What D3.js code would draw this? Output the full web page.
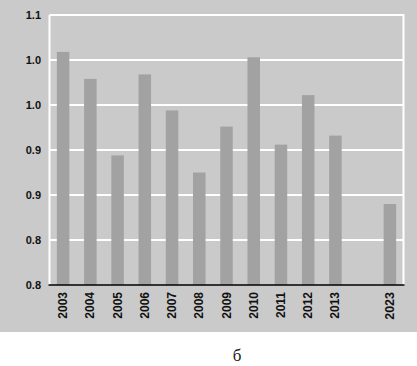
<!DOCTYPE html>
<html><head><meta charset="utf-8">
<script src="https://cdn.jsdelivr.net/npm/d3@7"></script>
<style>body{margin:0;background:#fff}svg{display:block}</style>
</head><body>
<script>
const categories = ["2003","2004","2005","2006","2007","2008","2009","2010","2011","2012","2013","2023"];
const values = [1.059,1.029,0.944,1.034,0.994,0.925,0.976,1.053,0.956,1.011,0.966,0.890];
const yTicks = [0.8,0.85,0.9,0.95,1.0,1.05,1.1];
const yTickLabels = ["0.8","0.8","0.9","0.9","1.0","1.0","1.1"];
const gapKey = "__gap__";

const W = 417, H = 366;
const m = {left: 49.5, right: 403.5, top: 15, bottom: 285};
const svg = d3.select("body").append("svg").attr("width", W).attr("height", H);

svg.append("rect").attr("x",0).attr("y",0).attr("width",W).attr("height",332).attr("fill","#cacaca");

const domain = categories.slice(0, 11).concat([gapKey], categories.slice(11));
const x = d3.scaleBand().domain(domain).range([m.left, m.right]).paddingInner(0.54).paddingOuter(0.27);
const y = d3.scaleLinear().domain([0.8, 1.1]).range([m.bottom, m.top]);

// gridlines
svg.append("g").selectAll("line").data(yTicks.slice(1)).join("line")
  .attr("x1", m.left).attr("x2", m.right)
  .attr("y1", d => y(d)).attr("y2", d => y(d))
  .attr("stroke", "#ffffff").attr("stroke-width", 2);
// left and right frame
svg.append("line").attr("x1", m.left).attr("x2", m.left).attr("y1", m.top).attr("y2", m.bottom).attr("stroke","#fff").attr("stroke-width",2);
svg.append("line").attr("x1", m.right).attr("x2", m.right).attr("y1", m.top-1).attr("y2", m.bottom).attr("stroke","#fff").attr("stroke-width",2);

// bars
svg.append("g").selectAll("rect").data(categories).join("rect")
  .attr("x", d => x(d)).attr("width", x.bandwidth())
  .attr("y", (d,i) => y(values[i])).attr("height", (d,i) => y(0.8) - y(values[i]))
  .attr("fill", "#a2a2a2");

// x axis line
svg.append("line").attr("x1", m.left-1).attr("x2", m.right+1).attr("y1", m.bottom).attr("y2", m.bottom).attr("stroke","#000").attr("stroke-width",1.5);

// y labels
svg.append("g").selectAll("text").data(yTicks).join("text")
  .attr("x", 41).attr("y", d => y(d)).attr("dy", "0.35em")
  .attr("text-anchor", "end")
  .attr("font-family", "Liberation Sans, Arial, sans-serif")
  .attr("font-size", 11).attr("font-weight", "bold").attr("fill", "#111")
  .text((d,i) => yTickLabels[i]);

// x labels
svg.append("g").selectAll("text").data(categories).join("text")
  .attr("transform", d => `translate(${x(d) + x.bandwidth()/2 + 4},292) rotate(-90)`)
  .attr("text-anchor", "end")
  .attr("font-family", "Liberation Sans, Arial, sans-serif")
  .attr("font-size", d => d === "2023" ? 12.5 : 12)
  .attr("font-weight", "bold").attr("fill", "#111")
  .text(d => d);

svg.append("text").attr("x", 237).attr("y", 361).attr("text-anchor","middle")
  .attr("font-family", "Liberation Serif, Times New Roman, serif").attr("font-size", 17).attr("fill","#222")
  .text("б");
</script>
</body></html>
